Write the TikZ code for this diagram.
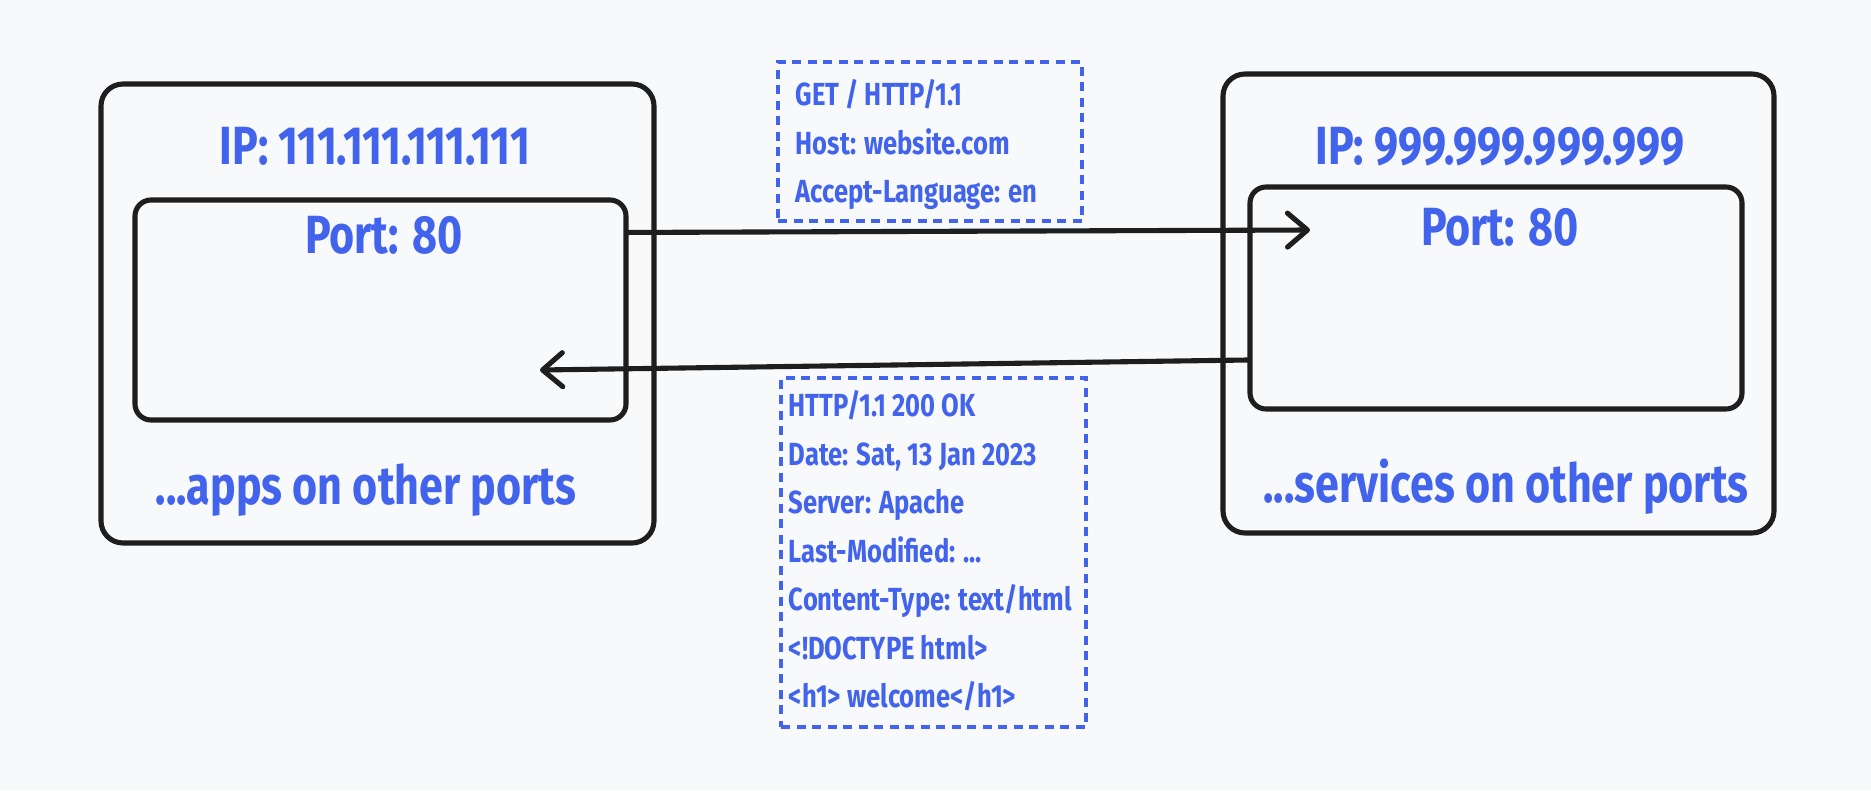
\documentclass[tikz,border=0pt]{standalone}
\usepackage{fontspec}
\newfontfamily\sketchfont[FakeStretch=0.8]{Fira Sans}
\usepackage{tikz}
\usetikzlibrary{positioning}
\usetikzlibrary{arrows.meta}
\definecolor{ipblue}{RGB}{66,99,235}
\definecolor{ink}{RGB}{30,30,30}
\definecolor{paper}{RGB}{248,249,250}

\tikzset{
  hostbox/.style={draw=ink, line width=1.45pt, rectangle, rounded corners=0.22cm},
  portbox/.style={draw=ink, line width=1.45pt, rectangle, rounded corners=0.16cm},
  msgbox/.style={draw=ipblue, line width=1.1pt, dash pattern=on 0.09cm off 0.065cm, rectangle},
  addr/.style={text=ipblue, inner sep=0, font=\sketchfont\bfseries\fontsize{15.3}{18}\selectfont},
  msgtext/.style={text=ipblue, inner sep=0, align=left, font=\sketchfont\bfseries\fontsize{9.1}{13.8}\selectfont},
  flow/.style={draw=ink, line width=1.45pt, line cap=round, -{Straight Barb[round,length=0.2cm,width=0.34cm]}}
}

\begin{document}
\begin{tikzpicture}
    % Page
    \fill[paper] (0,0) rectangle (18.71,7.90);
    \useasboundingbox (0,0) rectangle (18.71,7.90);

    % Client machine (left)
    \node (client) [hostbox, minimum width=5.53cm, minimum height=4.59cm] at (3.775,4.765) {};
    \node (cport) [portbox, minimum width=4.91cm, minimum height=2.20cm] at (3.805,4.80) {};
    \node (cip) [addr] at (3.75,6.435) {IP: 111.111.111.111};
    \node (cportlbl) [addr] at (3.84,5.55) {Port: 80};
    \node (capps) [addr] at (3.66,3.00) {...apps on other ports};

    % Server machine (right)
    \node (server) [hostbox, minimum width=5.51cm, minimum height=4.59cm] at (14.985,4.865) {};
    \node (sport) [portbox, minimum width=4.92cm, minimum height=2.22cm] at (14.96,4.92) {};
    \node (sip) [addr] at (15.00,6.43) {IP: 999.999.999.999};
    \node (sportlbl) [addr] at (15.00,5.63) {Port: 80};
    \node (sservices) [addr] at (15.06,3.03) {...services on other ports};

    % Request and response
    \node (request) [msgbox, minimum width=3.04cm, minimum height=1.59cm] at (9.30,6.485) {};
    \node (reqlines) [msgtext, anchor=north west] at ([xshift=0.19cm,yshift=-0.19cm]request.north west)
        {GET / HTTP/1.1\\Host: website.com\\Accept-Language: en};
    \node (response) [msgbox, minimum width=3.05cm, minimum height=3.49cm] at (9.335,2.375) {};
    \node (resplines) [msgtext, anchor=north west] at ([xshift=0.09cm,yshift=-0.14cm]response.north west)
        {HTTP/1.1 200 OK\\Date: Sat, 13 Jan 2023\\Server: Apache\\Last-Modified: ...\\Content-Type: text/html\\<!DOCTYPE html>\\<h1> welcome</h1>};

    % Arrows between the ports
    \coordinate (reqend) at (13.10,5.60);
    \coordinate (respend) at (5.40,4.20);
    \draw[flow] ([yshift=-0.35cm]cport.north east) -- (reqend);
    \draw[flow] ([yshift=-0.62cm]sport.west) -- (respend);
\end{tikzpicture}
\end{document}
